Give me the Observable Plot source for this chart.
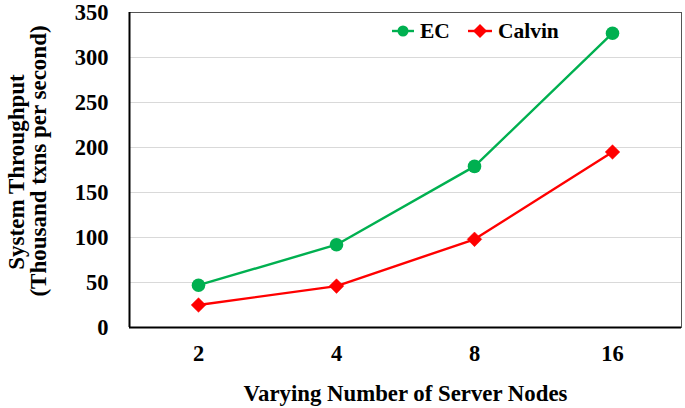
<!DOCTYPE html>
<html>
<head>
<meta charset="utf-8">
<script src="https://cdn.jsdelivr.net/npm/d3@7"></script>
<script src="https://cdn.jsdelivr.net/npm/@observablehq/plot@0.6"></script>
<style>
  html, body { margin: 0; padding: 0; background: #fff; }
  #wrap { position: relative; width: 685px; height: 408px; font-family: "Liberation Serif", "Times New Roman", serif; }
  #legend { position: absolute; left: 392px; top: 20px; display: flex; align-items: center; font-weight: bold; font-size: 21.5px; color: #000; line-height: 22px; }
  #legend .item { display: flex; align-items: center; margin-right: 18px; }
  #legend svg { margin-right: 6px; }
</style>
</head>
<body>
<div id="wrap">
  <div id="legend"></div>
</div>
<script>
const nodes = ["2", "4", "8", "16"];
const ecValues = [47, 92, 179, 327];
const calvinValues = [25, 46, 98, 195];
const seriesNames = ["EC", "Calvin"];
const seriesColors = ["#00b050", "#ff0000"];
const seriesSymbols = ["circle", "diamond"];
const yTicks = [0, 50, 100, 150, 200, 250, 300, 350];
const xTitle = "Varying Number of Server Nodes";
const yTitle1 = "System Throughput";
const yTitle2 = "(Thousand txns per second)";

const data = [];
nodes.forEach((n, i) => {
  data.push({nodes: n, value: ecValues[i], series: "EC"});
  data.push({nodes: n, value: calvinValues[i], series: "Calvin"});
});

const font = '"Liberation Serif", "Times New Roman", serif';

const chart = Plot.plot({
  width: 685,
  height: 408,
  marginLeft: 129,
  marginRight: 4,
  marginTop: 12,
  marginBottom: 81,
  style: {fontFamily: font, fontSize: "22px", fontWeight: "bold", color: "#000", background: "#fff"},
  x: {type: "point", domain: nodes, padding: 0.5},
  y: {domain: [0, 350]},
  color: {domain: seriesNames, range: seriesColors},
  marks: [
    Plot.gridY(yTicks, {stroke: "#d9d9d9", strokeOpacity: 1, strokeWidth: 1.2}),
    Plot.frame({stroke: "#555", strokeWidth: 1}),
    Plot.ruleY([0], {stroke: "#000", strokeWidth: 2}),
    Plot.ruleX([nodes[0]], {stroke: "#000", strokeWidth: 2, dx: -69}),
    Plot.axisY(yTicks, {tickSize: 0, tickPadding: 21, fontSize: 22.5, fontWeight: "bold", label: null}),
    Plot.axisX({tickSize: 0, tickPadding: 18, fontSize: 22.5, fontWeight: "bold", label: null}),
    Plot.text([xTitle], {frameAnchor: "bottom", dy: 66, lineAnchor: "middle", textAnchor: "middle", fontSize: 22.8, fontWeight: "bold", fill: "#000"}),
    Plot.text([yTitle1], {frameAnchor: "left", dx: -113, dy: 2, rotate: -90, textAnchor: "middle", lineAnchor: "middle", fontSize: 23, fontWeight: "bold", fill: "#000"}),
    Plot.text([yTitle2], {frameAnchor: "left", dx: -91, dy: -9, rotate: -90, textAnchor: "middle", lineAnchor: "middle", fontSize: 23, fontWeight: "bold", fill: "#000"}),
    Plot.line(data, {x: "nodes", y: "value", z: "series", stroke: "series", strokeWidth: 2.4}),
    Plot.dot(data.filter(d => d.series === "EC"), {x: "nodes", y: "value", fill: "series", symbol: "circle", r: 6.8}),
    Plot.dot(data.filter(d => d.series === "Calvin"), {x: "nodes", y: "value", fill: "series", stroke: "series", strokeWidth: 0.5, symbol: "diamond2", r: 6.6})
  ]
});
document.getElementById("wrap").prepend(chart);

const legend = document.getElementById("legend");
seriesNames.forEach((name, i) => {
  const item = document.createElement("div");
  item.className = "item";
  const sym = seriesSymbols[i] === "circle"
    ? `<circle cx="11" cy="8" r="5.5" fill="${seriesColors[i]}"/>`
    : `<path d="M12,1 L19,8 L12,15 L5,8 Z" fill="${seriesColors[i]}"/>`;
  const w = seriesSymbols[i] === "circle" ? 22 : 24;
  item.innerHTML = `<svg width="${w}" height="16"><line x1="0" x2="${w}" y1="8" y2="8" stroke="${seriesColors[i]}" stroke-width="2.4"/>${sym}</svg><span>${name}</span>`;
  legend.appendChild(item);
});
</script>
</body>
</html>
